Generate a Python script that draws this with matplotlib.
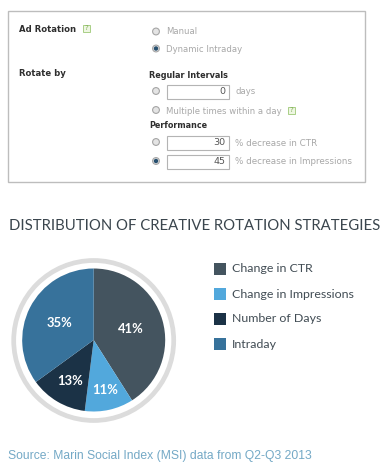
import matplotlib
matplotlib.use("Agg")
import matplotlib.pyplot as plt
import numpy as np
from matplotlib.patches import Rectangle, Circle

categories = ["Change in CTR", "Change in Impressions", "Number of Days", "Intraday"]
shares = [41, 11, 13, 35]
colors = ["#44545f", "#52a8dc", "#1b3246", "#37729b"]
label_radii = [0.54, 0.72, 0.66, 0.53]

W, H = 384, 467
fig = plt.figure(figsize=(W / 100, H / 100), dpi=100, facecolor="white")
bg = fig.add_axes([0, 0, 1, 1])
bg.set_xlim(0, W); bg.set_ylim(H, 0); bg.axis("off")

# Settings panel
bg.add_patch(Rectangle((7.5, 10.5), 357, 171.5, fc="white", ec="#bdbdbd", lw=1))
grey = "#a8a8a8"
dark = "#2e2e2e"
def ui(x, y, s, c=grey, bold=False, size=6.1, ha="left"):
    bg.text(x, y, s, color=c, fontsize=size, ha=ha, va="center",
            fontweight="bold" if bold else "normal", family="DejaVu Sans")
def radio(x, y, on=False):
    bg.add_patch(Circle((x, y), 3.4, fc="#e4e4e4", ec="#a5a5a5", lw=0.8))
    if on:
        bg.add_patch(Circle((x, y), 2.2, fc="#27506f", ec="none"))
def field(x, y, w, h, s):
    bg.add_patch(Rectangle((x, y), w, h, fc="white", ec="#b4b4b4", lw=0.8))
    ui(x + w - 3, y + h / 2, s, c="#555555", ha="right", size=6.8)
def help_icon(x, y):
    bg.add_patch(Rectangle((x - 3.5, y - 3.5), 7, 7, fc="#eef6e2", ec="#a9cf86", lw=0.7))
    bg.text(x, y, "?", color="#7fae55", fontsize=5, ha="center", va="center")

ui(19, 29.5, "Ad Rotation", c=dark, bold=True, size=6.1)
help_icon(86, 28.5)
radio(156, 31.5); ui(166, 32, "Manual")
radio(156, 48.5, True); ui(166, 49, "Dynamic Intraday")
ui(19, 74, "Rotate by", c=dark, bold=True, size=6.1)
ui(149, 75, "Regular Intervals", c=dark, bold=True, size=5.9)
radio(156, 91); field(166.5, 84.5, 62, 14, "0"); ui(235, 92, "days")
radio(156, 110); ui(166, 111, "Multiple times within a day")
help_icon(291.5, 110)
ui(149, 126, "Performance", c=dark, bold=True, size=5.8)
radio(156, 142); field(166.5, 135.5, 62, 14, "30"); ui(235, 143, "% decrease in CTR", size=6.3)
radio(156, 161, True); field(166.5, 154.5, 62, 14, "45"); ui(235, 162, "% decrease in Impressions", size=6.3)

# Title
bg.text(195, 226.5, "DISTRIBUTION OF CREATIVE ROTATION STRATEGIES", color="#3a454d",
        fontsize=10.7, family="Lato", ha="center", va="center")

# Ring + pie
cx, cy, r = 93.7, 340, 71.5
bg.add_patch(Circle((cx, 340.5), 80, fc="white", ec="#dcdcdc", lw=3.4))
span = 90
pie_ax = fig.add_axes([(cx - span) / W, 1 - (cy + span) / H, 2 * span / W, 2 * span / H])
pie_ax.patch.set_alpha(0)
wedges, _ = pie_ax.pie(shares, colors=colors, startangle=90, counterclock=False, radius=1,
                       wedgeprops=dict(linewidth=0))
pie_ax.set_xlim(-span / r, span / r); pie_ax.set_ylim(-span / r, span / r)
for w, v, d in zip(wedges, shares, label_radii):
    a = np.deg2rad((w.theta1 + w.theta2) / 2)
    pie_ax.text(d * np.cos(a), d * np.sin(a), f"{v}%", color="white", fontsize=9.4,
                fontweight="bold", family="Lato", ha="center", va="center")

# Legend
for i, (name, col) in enumerate(zip(categories, colors)):
    y = 269 + i * 25
    bg.add_patch(Rectangle((214, y - 6), 11.5, 11.5, fc=col, ec="none"))
    bg.text(232, y, name, color="#414c54", fontsize=8.9, family="Lato", ha="left", va="center")

# Source
bg.text(8, 456.5, "Source: Marin Social Index (MSI) data from Q2-Q3 2013", color="#74a9c6",
        fontsize=8.75, family="Liberation Sans", ha="left", va="center")

fig.savefig("out.png", dpi=100, facecolor="white")
